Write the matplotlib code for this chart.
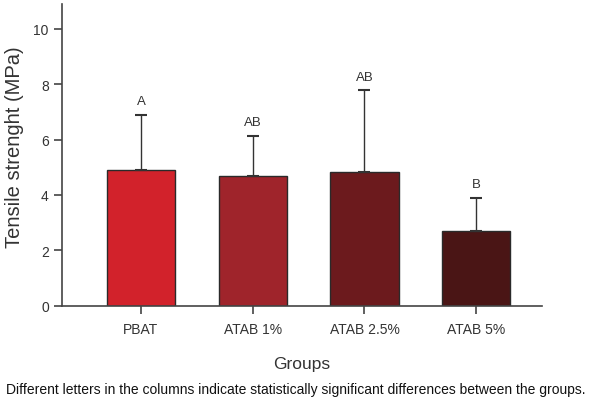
import matplotlib
matplotlib.use("Agg")
import matplotlib.pyplot as plt
import numpy as np

plt.rcParams['font.family'] = ['Liberation Sans', 'DejaVu Sans']

groups = ["PBAT", "ATAB 1%", "ATAB 2.5%", "ATAB 5%"]
means = [4.9, 4.68, 4.82, 2.69]
sd = [2.0, 1.45, 2.96, 1.2]
letters = ["A", "AB", "AB", "B"]
colors = ["#d2222b", "#9f242b", "#6c1a1d", "#4a1515"]

txt = "#333333"
fig = plt.figure(figsize=(6, 4.06), dpi=100)
ax = fig.add_axes([0.1033, 0.2446, 0.7997, 0.7431])

x = np.arange(len(groups))
ax.bar(x, means, width=0.61, color=colors, edgecolor="#2a2a2a", linewidth=1.0,
       yerr=[np.zeros(len(sd)), sd], capsize=4.3,
       error_kw=dict(ecolor="#333333", elinewidth=1.0, capthick=1.5))

for xi, m, s, l in zip(x, means, sd, letters):
    ax.text(xi, m + s + 0.5, l, ha="center", va="center", fontsize=9.5, color=txt)

ax.set_xlim(-0.707, 3.587)
ax.set_ylim(0, 10.9)
ax.set_yticks([0, 2, 4, 6, 8, 10])
ax.set_xticks(x)
ax.set_xticklabels(groups)
ax.tick_params(axis="both", labelsize=10, colors="#444444", labelcolor=txt,
               length=6, width=1.2, direction="out")
ax.tick_params(axis="x", pad=6)
for s in ["top", "right"]:
    ax.spines[s].set_visible(False)
for s in ["left", "bottom"]:
    ax.spines[s].set_color("#444444")
    ax.spines[s].set_linewidth(1.2)

ax.set_ylabel("Tensile strenght (MPa)", fontsize=14.5, color=txt)
ax.yaxis.set_label_coords(-0.08, 0.53)
ax.set_xlabel("Groups", fontsize=12.5, color=txt, labelpad=14)

fig.text(0.01, 0.04, "Different letters in the columns indicate statistically significant differences between the groups.",
         fontsize=10, color="#111111", ha="left", va="center")

fig.savefig("out.png", dpi=100)
